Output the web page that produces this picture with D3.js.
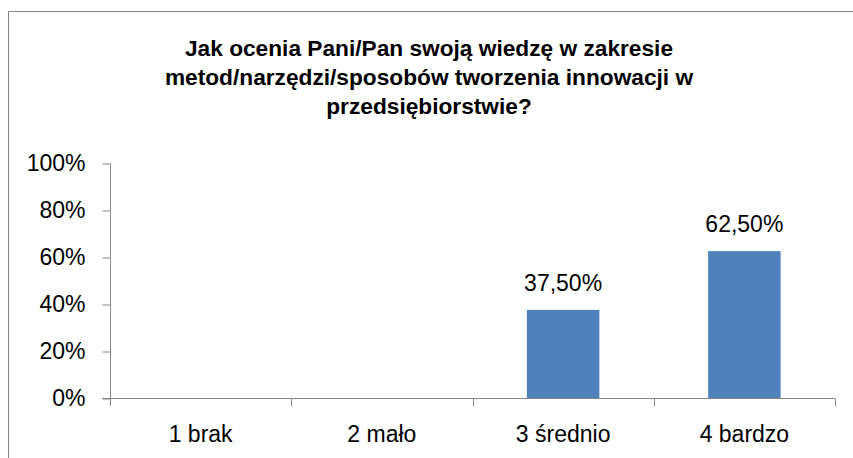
<!DOCTYPE html>
<html>
<head>
<meta charset="utf-8">
<script src="https://cdn.jsdelivr.net/npm/d3@7"></script>
<style>
  body { margin: 0; background: #fff; }
  svg { display: block; font-family: "Liberation Sans", Arial, sans-serif; }
</style>
</head>
<body>
<svg id="chart" width="853" height="458"></svg>
<script>
var titleLines = ["Jak ocenia Pani/Pan swoją wiedzę w zakresie",
                  "metod/narzędzi/sposobów tworzenia innowacji w",
                  "przedsiębiorstwie?"];
var categories = ["1 brak", "2 mało", "3 średnio", "4 bardzo"];
var values = [0, 0, 0.375, 0.625];
var barLabels = ["", "", "37,50%", "62,50%"];
var yTicks = [0, 0.2, 0.4, 0.6, 0.8, 1];

var width = 853, height = 458;
var axisColor = "#868686";
var svg = d3.select("#chart");

// outer chart border (right/bottom edges fall outside the picture)
svg.append("rect")
    .attr("x", 8.5).attr("y", 11.5)
    .attr("width", 900).attr("height", 500)
    .attr("fill", "none")
    .attr("stroke", axisColor)
    .attr("stroke-width", 1);

svg.append("text")
    .attr("text-anchor", "middle")
    .style("font-weight", "bold")
    .style("font-size", "22.7px")
    .attr("fill", "#000")
    .selectAll("tspan")
    .data(titleLines)
    .enter()
    .append("tspan")
    .attr("x", 429)
    .attr("y", function(d, i) { return 56 + i * 29; })
    .text(function(d) { return d; });

var x = d3.scaleBand().domain(categories).range([110, 835]).paddingInner(0.6).paddingOuter(0.3);
var y = d3.scaleLinear().domain([0, 1]).range([398, 163]);

// y axis
var yAxis = svg.append("g")
    .attr("transform", "translate(110.5,0)")
    .call(d3.axisLeft(y).tickValues(yTicks).tickSize(8).tickPadding(17)
        .tickFormat(function(d) { return Math.round(d * 100) + "%"; }));
yAxis.select(".domain").attr("d", "M0," + (y(1) + 0.5) + "V406");
yAxis.selectAll("line").attr("stroke", axisColor).attr("transform", "translate(0,0.5)");
yAxis.select(".domain").attr("stroke", axisColor);
yAxis.selectAll("text")
    .style("font-family", "Liberation Sans, Arial, sans-serif")
    .style("font-size", "23px")
    .attr("fill", "#000")
    .attr("dy", "0.32em");

// bars
svg.selectAll(".bar")
    .data(values)
    .enter()
    .append("rect")
    .attr("class", "bar")
    .attr("x", function(d, i) { return x(categories[i]); })
    .attr("width", x.bandwidth())
    .attr("y", function(d) { return y(d); })
    .attr("height", function(d) { return y(0) - y(d); })
    .attr("fill", "#4F81BD");

// x axis
var xAxis = svg.append("g")
    .attr("transform", "translate(0,398.5)")
    .call(d3.axisBottom(x).tickSize(0).tickPadding(27));
xAxis.select(".domain").attr("d", "M102," + 0 + "H" + x.range()[1]).attr("stroke", axisColor);
xAxis.selectAll("text")
    .style("font-family", "Liberation Sans, Arial, sans-serif")
    .style("font-size", "23px")
    .attr("fill", "#000");

var bounds = d3.range(categories.length + 1).map(function(i) { return x.range()[0] + i * x.step(); });
xAxis.selectAll(".bound")
    .data(bounds.slice(1))
    .enter()
    .append("line")
    .attr("class", "bound")
    .attr("x1", function(d) { return Math.round(d) + 0.5; })
    .attr("x2", function(d) { return Math.round(d) + 0.5; })
    .attr("y1", 0).attr("y2", 8)
    .attr("stroke", axisColor);

// value labels
svg.selectAll(".label")
    .data(values)
    .enter()
    .append("text")
    .attr("class", "label")
    .attr("x", function(d, i) { return x(categories[i]) + x.bandwidth() / 2; })
    .attr("y", function(d) { return y(d) - 19; })
    .attr("text-anchor", "middle")
    .style("font-size", "23px")
    .attr("fill", "#000")
    .text(function(d, i) { return barLabels[i]; });
</script>
</body>
</html>
